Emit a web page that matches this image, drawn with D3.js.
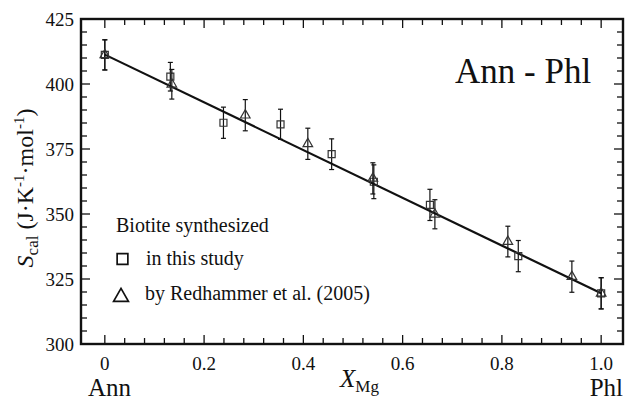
<!DOCTYPE html>
<html>
<head>
<meta charset="utf-8">
<script src="https://cdn.jsdelivr.net/npm/d3@7"></script>
<style>
  html, body { margin: 0; padding: 0; background: #fff; }
  svg { display: block; }
</style>
</head>
<body>
<svg id="chart" width="625" height="400"></svg>
<script>
// values
const studyX = [0, 0.132, 0.239, 0.354, 0.457, 0.542, 0.655, 0.833, 1.0];
const studyS = [411.2, 402.8, 385.1, 384.5, 373.0, 362.4, 353.5, 333.8, 319.5];
const studyErr = [5.8, 5.5, 6.0, 5.8, 5.9, 6.5, 6.0, 6.0, 6.0];

const redhX = [0, 0.135, 0.283, 0.409, 0.54, 0.665, 0.812, 0.941, 1.0];
const redhS = [411.2, 399.9, 388.0, 377.0, 363.7, 349.9, 339.4, 325.9, 319.5];
const redhErr = [5.8, 5.7, 6.0, 6.0, 6.0, 5.6, 5.9, 6.0, 6.0];

const fitX = [0, 1];
const fitS = [411.3, 319.5];

const xMajor = [0, 0.2, 0.4, 0.6, 0.8, 1.0];
const xLabels = ["0", "0.2", "0.4", "0.6", "0.8", "1.0"];
const yMajor = [300, 325, 350, 375, 400, 425];

const chart = d3.select("#chart")
    .attr("font-family", "'Liberation Serif', 'Times New Roman', Times, 'DejaVu Serif', serif");
const plotL = 81, plotR = 623, plotT = 19, plotB = 344;
const ink = "#111";

const x = d3.scaleLinear().domain([-0.048, 1.044]).range([plotL, plotR]);
const y = d3.scaleLinear().domain([300, 425]).range([plotB, plotT]);

const xMinor = d3.range(0, 26).map(i => i * 0.04).filter(v => !xMajor.some(m => Math.abs(m - v) < 1e-6));
const yMinor = d3.range(300, 426, 5).filter(v => v % 25 !== 0);

// ticks on all four sides, pointing inward
function ticks(scale, vals, len, side) {
    const g = chart.append("g").attr("stroke", ink).attr("stroke-width", 1.3);
    vals.forEach(v => {
        const p = scale(v);
        if (side === "bottom") createLine(g.append("line"), p, plotB, p, plotB - len);
        if (side === "top") createLine(g.append("line"), p, plotT, p, plotT + len);
        if (side === "left") createLine(g.append("line"), plotL, p, plotL + len, p);
        if (side === "right") createLine(g.append("line"), plotR, p, plotR - len, p);
    });
}
ticks(x, xMajor, 9, "bottom"); ticks(x, xMinor, 6, "bottom");
ticks(x, xMajor, 9, "top"); ticks(x, xMinor, 6, "top");
ticks(y, yMajor, 9, "left"); ticks(y, yMinor, 6, "left");
ticks(y, yMajor, 9, "right"); ticks(y, yMinor, 6, "right");

chart.append("rect")
    .attr("x", plotL).attr("y", plotT)
    .attr("width", plotR - plotL).attr("height", plotB - plotT)
    .attr("fill", "none").attr("stroke", ink).attr("stroke-width", 2.4);

// tick labels
chart.append("g").selectAll("text").data(yMajor).enter().append("text")
    .attr("x", plotL - 7).attr("y", d => y(d)).attr("dy", "0.35em")
    .attr("text-anchor", "end").attr("font-size", 19).attr("fill", ink)
    .text(d => d);

chart.append("g").selectAll("text").data(xMajor).enter().append("text")
    .attr("x", d => x(d)).attr("y", 370)
    .attr("text-anchor", "middle").attr("font-size", 19).attr("fill", ink)
    .text((d, i) => xLabels[i]);

// regression line
const fit = fitX.map((v, i) => [v, fitS[i]]);
chart.append("path")
    .attr("d", d3.line().x(d => x(d[0])).y(d => y(d[1]))(fit))
    .attr("fill", "none").attr("stroke", ink).attr("stroke-width", 2.2);

// error bars and markers
function series(xs, ss, errs, shape, size) {
    const g = chart.append("g");
    const pts = xs.map((v, i) => ({ x: v, s: ss[i], e: errs[i] }));
    const bars = g.selectAll("g.bar").data(pts).enter().append("g")
        .attr("stroke", ink).attr("stroke-width", 1.2);
    bars.append("line")
        .attr("x1", d => x(d.x)).attr("x2", d => x(d.x))
        .attr("y1", d => y(d.s + d.e)).attr("y2", d => y(d.s - d.e));
    bars.append("line")
        .attr("x1", d => x(d.x) - 2.5).attr("x2", d => x(d.x) + 2.5)
        .attr("y1", d => y(d.s + d.e)).attr("y2", d => y(d.s + d.e));
    bars.append("line")
        .attr("x1", d => x(d.x) - 2.5).attr("x2", d => x(d.x) + 2.5)
        .attr("y1", d => y(d.s - d.e)).attr("y2", d => y(d.s - d.e));
    g.selectAll("path").data(pts).enter().append("path")
        .attr("d", d3.symbol().type(shape).size(size))
        .attr("transform", d => "translate(" + x(d.x) + "," + y(d.s) + ")")
        .attr("fill", "none").attr("stroke", "#333").attr("stroke-width", 1.2);
}
series(studyX, studyS, studyErr, d3.symbolSquare, 49);
series(redhX, redhS, redhErr, d3.symbolTriangle, 40);

// legend
const legend = chart.append("g").attr("font-size", 20).attr("fill", ink);
legend.append("text").attr("x", 116).attr("y", 232).text("Biotite synthesized");
legend.append("path")
    .attr("d", d3.symbol().type(d3.symbolSquare).size(115))
    .attr("transform", "translate(122.5,259)")
    .attr("fill", "none").attr("stroke", ink).attr("stroke-width", 1.7);
legend.append("text").attr("x", 146).attr("y", 265).text("in this study");
legend.append("path")
    .attr("d", d3.symbol().type(d3.symbolTriangle).size(95))
    .attr("transform", "translate(121,297)")
    .attr("fill", "none").attr("stroke", ink).attr("stroke-width", 1.7);
legend.append("text").attr("x", 145).attr("y", 300).text("by Redhammer et al. (2005)");

// titles
chart.append("text").attr("x", 455).attr("y", 83)
    .attr("font-size", 35).attr("fill", ink).text("Ann - Phl");

chart.append("text").attr("x", 88).attr("y", 396)
    .attr("font-size", 25).attr("fill", ink).text("Ann");
chart.append("text").attr("x", 623).attr("y", 396).attr("text-anchor", "end")
    .attr("font-size", 25).attr("fill", ink).text("Phl");

const xlab = chart.append("text").attr("x", 340).attr("y", 387)
    .attr("font-size", 25).attr("fill", ink);
xlab.append("tspan").attr("font-style", "italic").text("X");
xlab.append("tspan").attr("font-size", 17).attr("dy", 5).text("Mg");

const ylab = chart.append("text")
    .attr("transform", "translate(33,188) rotate(-90)")
    .attr("text-anchor", "middle").attr("font-size", 24).attr("fill", ink);
ylab.append("tspan").attr("font-style", "italic").text("S");
ylab.append("tspan").attr("font-size", 17).attr("dy", 5).text("cal");
ylab.append("tspan").attr("dy", -5).text(" (J·K");
ylab.append("tspan").attr("font-size", 15).attr("dy", -9).text("-1");
ylab.append("tspan").attr("dy", 9).text("·mol");
ylab.append("tspan").attr("font-size", 15).attr("dy", -9).text("-1");
ylab.append("tspan").attr("dy", 9).text(")");

function createLine(elem, x1, y1, x2, y2) {
    return elem.attr("x1", x1)
        .attr("y1", y1)
        .attr("x2", x2)
        .attr("y2", y2);
}
</script>
</body>
</html>
